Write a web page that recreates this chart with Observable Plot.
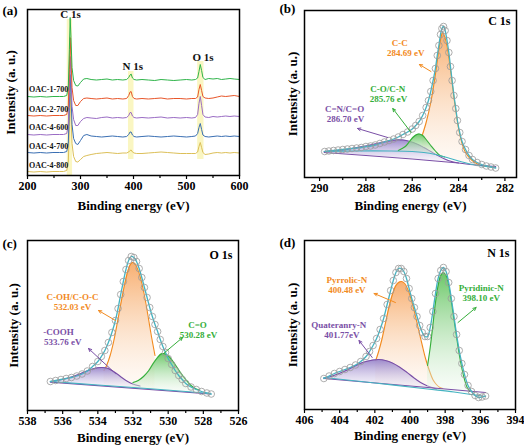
<!DOCTYPE html>
<html><head><meta charset="utf-8">
<script src="https://cdn.jsdelivr.net/npm/d3@7"></script>
<script src="https://cdn.jsdelivr.net/npm/@observablehq/plot@0.6"></script>
<style>
body{margin:0;background:#fff;}
#wrap{position:relative;width:524px;height:447px;overflow:hidden;background:#fff;}
#wrap svg, #wrap svg text{font-family:"Liberation Serif","Times New Roman",serif !important;font-weight:bold;}
</style></head><body>
<svg width="0" height="0" style="position:absolute">
<defs>
<linearGradient id="gOrange" x1="0" y1="0" x2="0" y2="1"><stop offset="0" stop-color="#f7aa68" stop-opacity="0.95"/><stop offset="1" stop-color="#fdf0e4" stop-opacity="0.3"/></linearGradient>
<linearGradient id="gGreen" x1="0" y1="0" x2="0" y2="1"><stop offset="0" stop-color="#62c45e" stop-opacity="0.95"/><stop offset="1" stop-color="#eef8ee" stop-opacity="0.35"/></linearGradient>
<linearGradient id="gPurple" x1="0" y1="0" x2="0" y2="1"><stop offset="0" stop-color="#9581c9" stop-opacity="0.95"/><stop offset="1" stop-color="#f1edf8" stop-opacity="0.4"/></linearGradient>
</defs></svg>
<div id="wrap"></div>
<script>
// ---------- (a) survey spectra ----------
const surveyEV = [200,212,224,236,248,260,268,274,277,279,280.5,282,284,287,291,295,300,306,312,320,330,340,350,360,370,380,387,391,393.5,395.5,398,401,406,416,428,440,452,464,476,488,500,510,517,521,523.5,526,528.5,531,535,542,550,558,566,574,582,590,600];
const oac1_700 = [79,78.5,79,78.5,79,79,79,80,88,126,158,138,108,95,90,89.5,93,96.5,97,96,95.5,96,96.5,95.5,96,95.5,96,98,100.5,101.5,97.5,96,95.5,96,95.5,95,96,95.5,95,95.5,96,95.5,96,97.5,104,111,105,98,96,97,96.5,97,96,96.5,97,96.5,96];
const oac2_700 = [60,59.5,60,59.5,60,60,60,61,69,106,138,118,88,75,70,70,74,77,77.5,77,76.5,77,77.5,76.5,77,76.5,77,80,83.5,84,79,77,76.5,77,76.5,77,77.5,76.5,77,77,76.5,77,77,78.5,86,91,85,79,77.5,77,77.5,78.5,79.5,79,79.5,80,79];
const oac4_600 = [41,40.5,41,40.5,41,41,41,42,50,86,119,99,69,56,50,50,54,57,58,57.5,57,58,58.5,57.5,58,57.5,58,60,63,63,59.5,58,57.5,58,57.5,58,58.5,57.5,58,57.5,58,57.5,58,61,72,79,70,61,58.5,58,59,58.5,59,59.5,59,59.5,59];
const oac4_700 = [23,22.5,23,22.5,23,23,23,24,32,68,101,81,51,37,32,31,35,40,41,39.5,39,38.5,39,39.5,39,38.5,39,41,43.5,43.5,40.5,39,38.5,39,39.5,39,38.5,39,39.5,39,38.5,39,39.5,42,48,52,46,40.5,39,38.5,39,39.5,39,39.5,39,39.5,39];
const oac4_800 = [4,3.5,4,3.5,4,4,4,5,13,49,82,62,32,19,14,13.5,16,19,20,21,22,22.5,23,22.5,22,22.5,22.5,23.5,25,25.5,23.5,22.5,22,22,22.5,23,23.5,23,22.5,22,22,22,22,23.5,29,33,28,23,21,21.5,22.5,23,22.5,23,22.5,23,22.5];
const sampleNames = ["OAC-1-700","OAC-2-700","OAC-4-600","OAC-4-700","OAC-4-800"];
const sampleLabelEV = [203,203,203,203,203];
const sampleLabelI = [86,66,48,29,10];
const peakNames = ["C 1s","N 1s","O 1s"];
const peakLabelEV = [281,398.5,531];
const peakLabelI = [161,109,118];
const bandFrom = [275,390.5,521];
const bandTo = [285,401,533];
const bandLow = [0,16,16];
const bandHigh = [156,104,114];

// ---------- (b) C 1s ----------
const c1sEV = [289.78,289.6,289.4,289.2,289.0,288.8,288.6,288.4,288.2,288.0,287.8,287.6,287.4,287.2,287.0,286.8,286.6,286.4,286.2,286.0,285.85,285.7,285.55,285.4,285.3,285.2,285.1,285.0,284.92,284.85,284.78,284.72,284.65,284.58,284.5,284.42,284.35,284.28,284.2,284.12,284.05,283.95,283.85,283.7,283.55,283.4,283.2,283.0,282.8,282.6,282.4];
const c1sI = [26,26.5,27,27.5,28,28.5,29,29.5,30,31,31.5,32.5,34,35.5,37,38.5,40.5,43,45.5,48.5,52,56,62,70,77,86,97,109,122,132,143,149,151,147,137,125,111,97,82,69,57,45,36,28,22,18,15,13,11.5,10.5,9.5];
const ccEV = [285.57,285.4,285.2,285.0,284.85,284.75,284.69,284.6,284.5,284.4,284.3,284.2,284.1,284.0,283.85,283.7,283.5,283.3,283.0,282.7,282.45];
const ccTop = [42,55,75,103,128,141,145,141,131,116,99,80,64,49,34,25,19,15,12,11,10];
const ccBase = [25,24.5,23.7,23,22,21.4,21,20.5,20,19.3,18.5,18,17,16.5,15.5,14.5,13.5,12.7,11.5,10.7,10];
const coEV = [286.6,286.3,286.1,285.95,285.8,285.7,285.55,285.4,285.2,285.0,284.8,284.6];
const coTop = [27,31,36.5,40.5,43,43.5,42,38,32,26.5,22,20.5];
const coBase = [26.5,26.3,26,25.8,25.5,25.2,25,24.5,23.7,23,21.8,20.5];
const cnEV = [289.8,289.0,288.5,288.0,287.5,287.0,286.7,286.4,286.1,285.8,285.5,285.2,284.9,284.6,284.3,284.0];
const cnTop = [26,27.5,29.5,31.5,34,36.5,37.5,37.5,36,33.5,30,26,22,18.5,16,14.5];
const cnBase = [25,23.7,23,22,21.2,20.3,19.8,19.3,18.7,18.2,17.7,17.1,16.5,15.8,15.2,14.5];
const c1sBgEV = [289.8,288.5,287,286,285.5,285,284.5,284,283.5,283,282.4];
const c1sBgI = [26,26.5,26.5,26,25,23,20,16.5,13.5,11.5,10];
const c1sBg2EV = [289.8,288,286,284.5,284,283.5,283,282.4];
const c1sBg2I = [25,22,18.5,15.5,14.5,13,12,11];
const c1sLabels = ["C-C","284.69 eV","C-O/C-N","285.76 eV","C=N/C=O","286.70 eV"];
const c1sLabelEV = [286.54,286.28,287.06,287.02,288.92,288.88];
const c1sLabelI = [134,124,88,78,68,58];
const c1sArrowFromEV = [285.19,286.05,287.06], c1sArrowFromI = [106,45,40];
const c1sArrowToEV = [285.69,286.84,288.36], c1sArrowToI = [113,69,49];

// ---------- (c) O 1s ----------
const o1sEV = [536.7,536.4,536.1,535.8,535.5,535.2,534.9,534.6,534.3,534.0,533.8,533.6,533.4,533.2,533.0,532.85,532.7,532.55,532.4,532.25,532.1,531.95,531.8,531.65,531.5,531.35,531.2,531.05,530.9,530.75,530.6,530.45,530.3,530.15,530.0,529.8,529.6,529.4,529.2,529.0,528.7,528.4,528.1,527.8,527.55];
const o1sI = [29,30,31,32,33,34.5,36.5,39.5,44,49,54,60,68,78,90,102,116,129,141,150,154,153,149,142,133,123,113,103,94,86,79,71,64,58,52,46,40,35,31,27,23.5,21,19,17.5,16.5];
const cohEV = [533.65,533.5,533.3,533.1,532.9,532.7,532.5,532.3,532.15,532.03,531.9,531.75,531.55,531.35,531.15,530.95,530.75];
const cohTop = [40,45,55,69,87,106,124,139,146,148,147,142,131,115,95,74,55];
const cohBase = [25,24.8,24.5,24.3,24,23.7,23.5,23.2,23,22.8,22.7,22.5,22.2,22,21.7,21.4,21.2];
const cdoEV = [532.0,531.7,531.4,531.1,530.85,530.6,530.4,530.28,530.1,529.9,529.6,529.3,529.0,528.7,528.4,528.2];
const cdoTop = [28,30,34,40,47,53,56.5,57,56,53,46,38,31,25,21.5,20.5];
const cdoBase = [22.8,22.4,22.0,21.6,21.3,21.0,20.7,20.5,20.3,20.0,19.6,19.2,18.8,18.5,18.1,17.8];
const coohEV = [536.7,536.3,535.9,535.5,535.1,534.7,534.3,534.0,533.76,533.5,533.2,532.9,532.6,532.3,532.0,531.6];
const coohTop = [29,30,31.5,33.5,36,39,41.5,42.7,43,42.5,40,36.5,32.5,29,26.5,24.5];
const coohBase = [28.4,27.9,27.4,26.9,26.4,25.9,25.4,25,24.7,24.4,24,23.6,23.3,22.9,22.5,22];
const o1sBgEV = [536.7,534,531,529,527.6];
const o1sBgI = [29,25.5,21.8,19,17];
const o1sBg2EV = [536.7,527.6];
const o1sBg2I = [28.4,16.5];
const o1sLabels = ["C-OH/C-O-C","532.03 eV","C=O","530.28 eV","-COOH","533.76 eV"];
const o1sLabelEV = [535.44,535.44,528.33,528.27,536.24,536.0];
const o1sLabelI = [113,103,85,75,78,68];
const o1sArrowFromEV = [533.0,530.26,533.0], o1sArrowFromI = [90,57,37];
const o1sArrowToEV = [533.96,529.18,534.53], o1sArrowToI = [100,73,62];

// ---------- (d) N 1s ----------
const n1sEV = [404.9,404.6,404.3,404.0,403.7,403.4,403.1,402.8,402.5,402.3,402.1,401.9,401.7,401.5,401.3,401.1,400.95,400.8,400.65,400.5,400.35,400.2,400.05,399.9,399.75,399.6,399.45,399.3,399.15,399.0,398.85,398.7,398.55,398.4,398.25,398.1,397.95,397.8,397.65,397.5,397.35,397.2,397.05,396.9,396.7,396.5,396.3,396.1,395.9,395.7];
const n1sI = [31,33.5,36,38,40,42,44.5,48,53,58,64,71,80,91,105,119,129,137,141,141,138,131,121,111,102,93,84,77,73,73,82,98,116,131,139,142,138,127,111,93,75,59,46,35,24,18,14,12,12.5,13.5];
const pyrEV = [401.95,401.8,401.6,401.4,401.2,401.0,400.8,400.6,400.48,400.3,400.1,399.9,399.7,399.5,399.3,399.1,398.9,398.7,398.5,398.3,398.13];
const pyrTop = [49,57,70,86,102,115,124,127.5,128,126,119,108,94,79,64,50,39,30,25,22,21];
const pyrBase = [26.3,26.0,25.6,25.2,24.8,24.4,24.0,23.6,23.4,23.0,22.6,22.2,21.8,21.4,21.1,20.7,20.3,19.9,19.5,19.1,18.8];
const pydEV = [399.0,398.85,398.7,398.55,398.4,398.25,398.1,397.95,397.8,397.65,397.5,397.35,397.2,397.05,396.9,396.75,396.6];
const pydTop = [44,62,84,107,124,134,137,134,124,108,90,72,55,41,30,22,18];
const pydBase = [20.5,20.2,19.9,19.6,19.3,19.0,18.7,18.4,18.1,17.8,17.5,17.2,16.9,16.6,16.4,16.1,15.8];
const quaEV = [404.9,404.5,404.1,403.7,403.3,402.9,402.5,402.1,401.77,401.4,401.0,400.6,400.2,399.8,399.4,399.0,398.5];
const quaTop = [31.5,33,35.5,38.5,42,45.5,48,49.5,50,49,46.5,42.5,37.5,32,27,23.5,20.5];
const quaBase = [31,30.4,29.8,29.2,28.6,28,27.4,26.8,26.3,25.7,25.1,24.5,23.9,23.2,22.6,22,21.3];
const n1sBgEV = [404.9,402,399,397.5,396.5,395.7];
const n1sBgI = [32,26.5,20.5,17.5,15,13];
const n1sBg2EV = [404.9,395.7];
const n1sBg2I = [31,17];
const n1sLabels = ["Pyrrolic-N","400.48 eV","Pyridinic-N","398.10 eV","Quateranry-N","401.77eV"];
const n1sLabelEV = [403.59,403.59,395.95,395.95,404.05,403.88];
const n1sLabelI = [129,119,121,111,84,74];
const n1sArrowFromEV = [400.83,397.27,402.15], n1sArrowFromI = [107,87,52];
const n1sArrowToEV = [402.04,396.24,402.9], n1sArrowToI = [116,102,69];

// ---------- styling ----------
const FONT = "Liberation Serif";
const C_OR = "#f28a1e", C_GR = "#35ae3a", C_PU = "#7a4fa6", C_TEAL = "#45b3c1";
const labelColors = [C_OR, C_OR, C_GR, C_GR, C_PU, C_PU];
const arrowColors = [C_OR, C_GR, C_PU];

function commonMarks(o) {
  return [
    Plot.frame({stroke: "#000", strokeWidth: 1.5}),
    Plot.axisX({ticks: o.minors, tickSize: 3, tickFormat: () => "", strokeWidth: 1.2}),
    Plot.axisX({ticks: o.majors, tickSize: 4, tickPadding: 2, fontSize: 12, fontWeight: "bold", fontFamily: FONT, strokeWidth: 1.2, label: null, tickFormat: d => String(d)}),
    Plot.text(["Binding energy (eV)"], {text: d => d, frameAnchor: "bottom", dy: o.xTitleDy, lineAnchor: "middle", textAnchor: "middle", fontSize: 13, fontWeight: "bold", fontFamily: FONT}),
    Plot.text(["Intensity (a. u.)"], {text: d => d, frameAnchor: "left", rotate: -90, dx: o.yTitleDx, lineAnchor: "middle", textAnchor: "middle", fontSize: 13, fontWeight: "bold", fontFamily: FONT}),
    Plot.text([o.letter], {text: d => d, frameAnchor: "top-left", dx: -25, dy: o.letterDy, textAnchor: "start", lineAnchor: "middle", fontSize: 13, fontWeight: "bold", fontFamily: FONT})
  ];
}

function makePanel(o) {
  const svg = Plot.plot({
    width: o.width, height: o.height,
    marginLeft: o.mL, marginRight: o.mR, marginTop: o.mT, marginBottom: o.mB,
    x: {domain: o.xDomain},
    y: {domain: [0, o.yMax], axis: null},
    color: {type: "identity"},
    style: {position: "absolute", left: o.left + "px", top: o.top + "px", fontFamily: FONT, fontWeight: "bold", fontSize: "12px", background: "transparent", overflow: "visible", maxWidth: "none"},
    marks: [...o.marks, ...commonMarks(o)]
  });
  document.getElementById("wrap").appendChild(svg);
}

function arrows(fx, fy, tx, ty) {
  return Plot.arrow(fx, {x1: fx, y1: fy, x2: tx, y2: ty, stroke: arrowColors, strokeWidth: 1, headLength: 5, headAngle: 50});
}
function labels(names, xs, ys) {
  return Plot.text(names, {x: xs, y: ys, text: names, fill: labelColors, fontSize: 9, fontWeight: "bold", fontFamily: FONT});
}
function component(xs, top, base, grad, stroke) {
  return [
    Plot.areaY(xs, {x: xs, y1: base, y2: top, fill: grad, curve: "catmull-rom"}),
    Plot.line(xs, {x: xs, y: top, stroke, strokeWidth: 1.1, curve: "catmull-rom"})
  ];
}
function fitMarks(ev, I, bgEV, bgI, bg2EV, bg2I) {
  return [
    Plot.line(bg2EV, {x: bg2EV, y: bg2I, stroke: C_PU, strokeWidth: 1.1}),
    Plot.line(bgEV, {x: bgEV, y: bgI, stroke: C_TEAL, strokeWidth: 1.1, curve: "catmull-rom"}),
    Plot.line(ev, {x: ev, y: I, stroke: C_TEAL, strokeWidth: 1.3, curve: "catmull-rom"}),
    Plot.dot(ev, {x: ev, y: I, r: 3.3, stroke: "#9a9a9a", strokeWidth: 0.8, fill: "none"})
  ];
}

// (a)
const surveyColors = ["#2fb44a","#e8562a","#9a6cc4","#3a6fb3","#dcbf58"];
const surveySets = [oac1_700, oac2_700, oac4_600, oac4_700, oac4_800];
makePanel({
  left: 0, top: 0, width: 262, height: 225, mL: 27, mR: 23, mT: 9, mB: 50,
  xDomain: [200, 600], yMax: 166, majors: [200,300,400,500,600], minors: [250,350,450,550],
  xTitleDy: 30, yTitleDx: -17, letter: "(a)", letterDy: 1,
  marks: [
    Plot.rect(bandFrom, {x1: bandFrom, x2: bandTo, y1: bandLow, y2: bandHigh, fill: "#f6f09a", fillOpacity: 0.6}),
    ...surveySets.map((s, i) => i).reverse().map(i =>
      Plot.line(surveyEV, {x: surveyEV, y: surveySets[i], stroke: surveyColors[i], strokeWidth: 1})),
    Plot.text(sampleNames, {x: sampleLabelEV, y: sampleLabelI, text: sampleNames, textAnchor: "start", fontSize: 8, fontWeight: "bold", fontFamily: FONT, fill: "#111"}),
    Plot.text(peakNames, {x: peakLabelEV, y: peakLabelI, text: peakNames, fontSize: 11, fontWeight: "bold", fontFamily: FONT, fill: "#111"})
  ]
});

// (b)
makePanel({
  left: 262, top: 0, width: 262, height: 225, mL: 42, mR: 8, mT: 10, mB: 48,
  xDomain: [290.65, 281.5], yMax: 167, majors: [290,288,286,284,282], minors: [289,287,285,283],
  xTitleDy: 28, yTitleDx: -12, letter: "(b)", letterDy: -2,
  marks: [
    ...component(ccEV, ccTop, ccBase, "url(#gOrange)", C_OR),
    ...component(cnEV, cnTop, cnBase, "url(#gPurple)", C_PU),
    ...component(coEV, coTop, coBase, "url(#gGreen)", C_GR),
    ...fitMarks(c1sEV, c1sI, c1sBgEV, c1sBgI, c1sBg2EV, c1sBg2I),
    labels(c1sLabels, c1sLabelEV, c1sLabelI),
    arrows(c1sArrowFromEV, c1sArrowFromI, c1sArrowToEV, c1sArrowToI),
    Plot.text(["C 1s"], {text: d => d, frameAnchor: "top-right", dx: -6, dy: 11, textAnchor: "end", lineAnchor: "middle", fontSize: 12, fontWeight: "bold", fontFamily: FONT})
  ]
});

// (c)
makePanel({
  left: 0, top: 225, width: 262, height: 222, mL: 27, mR: 24, mT: 15, mB: 37,
  xDomain: [538, 526], yMax: 170, majors: [538,536,534,532,530,528,526], minors: [537,535,533,531,529,527],
  xTitleDy: 27, yTitleDx: -14, letter: "(c)", letterDy: 3,
  marks: [
    ...component(cohEV, cohTop, cohBase, "url(#gOrange)", C_OR),
    ...component(coohEV, coohTop, coohBase, "url(#gPurple)", C_PU),
    ...component(cdoEV, cdoTop, cdoBase, "url(#gGreen)", C_GR),
    ...fitMarks(o1sEV, o1sI, o1sBgEV, o1sBgI, o1sBg2EV, o1sBg2I),
    labels(o1sLabels, o1sLabelEV, o1sLabelI),
    arrows(o1sArrowFromEV, o1sArrowFromI, o1sArrowToEV, o1sArrowToI),
    Plot.text(["O 1s"], {text: d => d, frameAnchor: "top-right", dx: -6, dy: 15, textAnchor: "end", lineAnchor: "middle", fontSize: 12, fontWeight: "bold", fontFamily: FONT})
  ]
});

// (d)
makePanel({
  left: 262, top: 225, width: 262, height: 222, mL: 42, mR: 9, mT: 15, mB: 38,
  xDomain: [406, 394], yMax: 169, majors: [406,404,402,400,398,396,394], minors: [405,403,401,399,397,395],
  xTitleDy: 26, yTitleDx: -12, letter: "(d)", letterDy: 2,
  marks: [
    ...component(pyrEV, pyrTop, pyrBase, "url(#gOrange)", C_OR),
    ...component(quaEV, quaTop, quaBase, "url(#gPurple)", C_PU),
    ...component(pydEV, pydTop, pydBase, "url(#gGreen)", C_GR),
    ...fitMarks(n1sEV, n1sI, n1sBgEV, n1sBgI, n1sBg2EV, n1sBg2I),
    labels(n1sLabels, n1sLabelEV, n1sLabelI),
    arrows(n1sArrowFromEV, n1sArrowFromI, n1sArrowToEV, n1sArrowToI),
    Plot.text(["N 1s"], {text: d => d, frameAnchor: "top-right", dx: -6, dy: 13, textAnchor: "end", lineAnchor: "middle", fontSize: 12, fontWeight: "bold", fontFamily: FONT})
  ]
});
</script>
</body></html>
